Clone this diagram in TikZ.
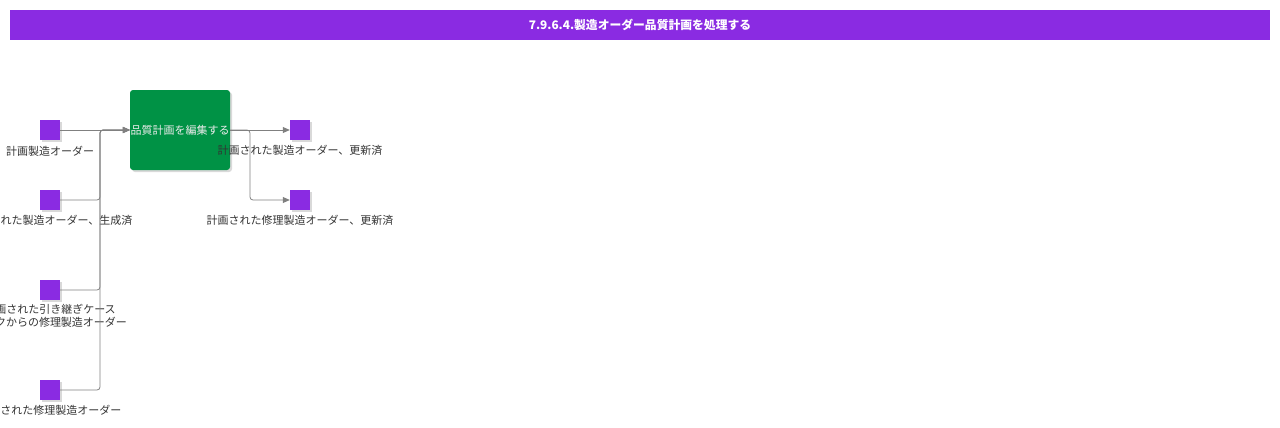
\documentclass[tikz,border=0pt]{standalone}
\usepackage{fontspec}
\setmainfont{Noto Sans CJK JP}
\usetikzlibrary{arrows.meta,shadows}
\definecolor{violetbar}{RGB}{138,43,226}
\definecolor{taskgreen}{RGB}{0,146,69}

\begin{document}
\begin{tikzpicture}[x=1pt, y=-1pt, font=\fontsize{11}{12.5}\selectfont,
        every node/.style={inner sep=0pt},
        titlebar/.style={fill=violetbar, minimum width=1260pt, minimum height=30pt, text=white, font=\fontsize{11.8}{13}\bfseries\selectfont},
        task/.style={fill=taskgreen, rounded corners=3pt, minimum width=100pt, minimum height=80pt, text=white!85!gray, drop shadow={shadow xshift=2pt, shadow yshift=-2pt, opacity=0.3}},
        obj/.style={fill=violetbar, minimum size=20pt, drop shadow={shadow xshift=2pt, shadow yshift=-2pt, opacity=0.3}},
        objlabel/.style={text=black!80, align=center},
        flow/.style={draw=gray, thick, rounded corners=3pt, -{Triangle[length=7pt,width=6pt]}}]

        \useasboundingbox (0,0) rectangle (1280,428);

        \node[titlebar] (title) at (640,25) {7.9.6.4.製造オーダー品質計画を処理する};

        \node[task] (edit) at (180,130) {品質計画を編集する};

        \node[obj] (in1) at (50,130) {};
        \node[obj] (in2) at (50,200) {};
        \node[obj] (in3) at (50,290) {};
        \node[obj] (in4) at (50,390) {};
        \node[obj] (out1) at (300,130) {};
        \node[obj] (out2) at (300,200) {};

        \node[objlabel] (in1l) at (50,151) {計画製造オーダー};
        \node[objlabel] (in2l) at (50,220) {計画された製造オーダー、生成済};
        \node[objlabel, font=\fontsize{11}{13}\selectfont] (in3l) at (50,316) {計画された引き継ぎケース\\タスクからの修理製造オーダー};
        \node[objlabel] (in4l) at (50,410) {計画された修理製造オーダー};
        \node[objlabel] (out1l) at (300,150) {計画された製造オーダー、更新済};
        \node[objlabel] (out2l) at (300,220) {計画された修理製造オーダー、更新済};

        % inputs
        \draw[flow] (in1.east) -- (edit.west);
        \draw[flow] (in2.east) -- (100,200) -- (100,130) -- (edit.west);
        \draw[flow] (in3.east) -- (100,290) -- (100,130) -- (edit.west);
        \draw[flow] (in4.east) -- (100,390) -- (100,130) -- (edit.west);
        % outputs
        \draw[flow] (edit.east) -- (out1.west);
        \draw[flow] (edit.east) -- (250,130) -- (250,200) -- (out2.west);
\end{tikzpicture}
\end{document}
